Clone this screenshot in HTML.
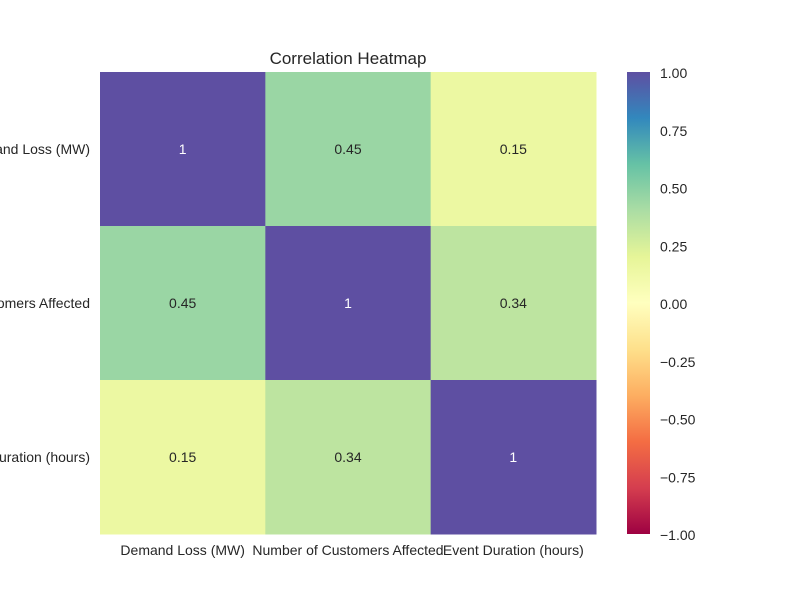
<!DOCTYPE html>
<html><head><meta charset="utf-8"><style>
html,body{margin:0;padding:0;background:#fff;}
svg{display:block;font-family:"Liberation Sans",sans-serif;}
</style></head><body>
<svg id="chart" width="800" height="600">
<defs>
<linearGradient id="cbar" x1="0" y1="1" x2="0" y2="0">
<stop offset="0" stop-color="#9e0142"/><stop offset="0.1" stop-color="#d53e4f"/><stop offset="0.2" stop-color="#f46d43"/><stop offset="0.3" stop-color="#fdae61"/><stop offset="0.4" stop-color="#fee08b"/><stop offset="0.5" stop-color="#ffffbf"/><stop offset="0.6" stop-color="#e6f598"/><stop offset="0.7" stop-color="#abdda4"/><stop offset="0.8" stop-color="#66c2a5"/><stop offset="0.9" stop-color="#3288bd"/><stop offset="1" stop-color="#5e4fa2"/>
</linearGradient>
</defs>
<text x="348" y="64" text-anchor="middle" font-size="17" fill="#262626">Correlation Heatmap</text>
<g id="cells"></g>
<rect x="627" y="72" width="23" height="462" fill="url(#cbar)"/>
<g id="cbticks"></g>
</svg>
<script>
const categories = ["Demand Loss (MW)", "Number of Customers Affected", "Event Duration (hours)"];
const row0 = [1, 0.45, 0.15];
const row1 = [0.45, 1, 0.34];
const row2 = [0.15, 0.34, 1];
const colorbarTicks = [1, 0.75, 0.5, 0.25, 0, -0.25, -0.5, -0.75, -1];
const rows = [row0, row1, row2];

const stops = ["#9e0142","#d53e4f","#f46d43","#fdae61","#fee08b","#ffffbf","#e6f598","#abdda4","#66c2a5","#3288bd","#5e4fa2"];
function hex(h){return [1,3,5].map(i=>parseInt(h.substr(i,2),16));}
function color(v){
  let t=(v+1)/2; t=Math.max(0,Math.min(1,t));
  const p=t*10, i=Math.min(9,Math.floor(p)), f=p-i;
  const a=hex(stops[i]), b=hex(stops[i+1]);
  return "rgb("+a.map((c,k)=>Math.round(c+(b[k]-c)*f)).join(",")+")";
}
const X0=100,X1=596,Y0=72,Y1=534;
const n=categories.length, cw=(X1-X0)/n, ch=(Y1-Y0)/n;
const xPos=j=>X0+j*cw, yPos=i=>Y0+i*ch;
const cbY=v=>Y1-(v+1)/2*(Y1-Y0);
const NS="http://www.w3.org/2000/svg";
const svg=document.getElementById("chart");
const g=document.getElementById("cells");
function mk(tag,attrs,parent){const e=document.createElementNS(NS,tag);for(const k in attrs)e.setAttribute(k,attrs[k]);parent.appendChild(e);return e;}
rows.forEach((r,i)=>{
  r.forEach((v,j)=>{
    const rc=mk("rect",{x:xPos(j),y:yPos(i),width:cw+0.5,height:ch+0.5,fill:color(v)},g);
    
    
    const t=mk("text",{x:xPos(j)+cw/2,y:yPos(i)+ch/2+5,"text-anchor":"middle","font-size":"14",fill:v>0.7?"#ffffff":"#262626"},g);
    
    
    t.textContent=String(v);
  });
});
categories.forEach((c,k)=>{
  const tx=mk("text",{x:xPos(k)+cw/2,y:555,"text-anchor":"middle","font-size":"14",fill:"#262626"},svg);
  
  
  tx.textContent=c;
  const ty=mk("text",{x:90,y:yPos(k)+ch/2+5,"text-anchor":"end","font-size":"14",fill:"#262626"},svg);
  
  
  ty.textContent=c;
});
const cb=document.getElementById("cbticks");
colorbarTicks.forEach(v=>{
  const t=mk("text",{x:660,y:cbY(v)+6,"font-size":"14",fill:"#262626"},cb);
  
  
  t.textContent=(v<0?"\u2212":"")+Math.abs(v).toFixed(2);
});
</script>
</body></html>
